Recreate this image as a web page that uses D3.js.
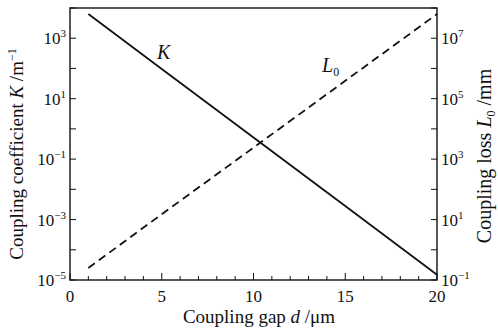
<!DOCTYPE html>
<html>
<head>
<meta charset="utf-8">
<script src="https://cdn.jsdelivr.net/npm/d3@7"></script>
<style>
  html, body { margin: 0; padding: 0; background: #ffffff; }
  svg { display: block; }
  text { font-family: "Liberation Serif", "DejaVu Serif", serif; fill: #111; }
</style>
</head>
<body>
<svg id="chart" width="498" height="334"></svg>
<script>
// Coupling gap (µm)
const gap = [1, 5, 10, 15, 20];
// Coupling coefficient K (1/m), left log axis
const kValues = [6.3e3, 96, 0.52, 2.8e-3, 1.5e-5];
// Coupling loss L0 (mm), right log axis
const lossValues = [0.25, 15, 2.4e3, 3.9e5, 6.3e7];

const xTicks = [0, 5, 10, 15, 20];
const leftExp = [-5, -3, -1, 1, 3];
const rightExp = [-1, 1, 3, 5, 7];

const svg = d3.select("#chart");
const m = { left: 70, right: 61, top: 8, bottom: 54 };
const W = 498, H = 334;
const iw = W - m.left - m.right, ih = H - m.top - m.bottom;

const x = d3.scaleLinear().domain([0, 20]).range([m.left, m.left + iw]);
const yL = d3.scaleLog().domain([1e-5, 1e4]).range([m.top + ih, m.top]);
const yR = d3.scaleLog().domain([1e-1, 1e8]).range([m.top + ih, m.top]);

const g = svg.append("g");

// frame
g.append("rect")
  .attr("x", m.left).attr("y", m.top).attr("width", iw).attr("height", ih)
  .attr("fill", "none").attr("stroke", "#111").attr("stroke-width", 1.4);

// x ticks (inward), major every 5, minor every 1
const xMinor = d3.range(0, 21);
g.selectAll(".xt").data(xMinor).join("line")
  .attr("x1", d => x(d)).attr("x2", d => x(d))
  .attr("y1", m.top + ih).attr("y2", d => m.top + ih - (d % 5 === 0 ? 7 : 4))
  .attr("stroke", "#111").attr("stroke-width", 1);

g.selectAll(".xl").data(xTicks).join("text")
  .attr("x", d => x(d)).attr("y", m.top + ih + 22)
  .attr("text-anchor", "middle").attr("font-size", 17)
  .text(d => d);

// left axis ticks each decade
const leftDec = d3.range(-5, 5);
g.selectAll(".lt").data(leftDec).join("line")
  .attr("x1", m.left).attr("x2", m.left + 6)
  .attr("y1", d => yL(Math.pow(10, d))).attr("y2", d => yL(Math.pow(10, d)))
  .attr("stroke", "#111").attr("stroke-width", 1);

const rightDec = d3.range(-1, 9);
g.selectAll(".rt").data(rightDec).join("line")
  .attr("x1", m.left + iw).attr("x2", m.left + iw - 6)
  .attr("y1", d => yR(Math.pow(10, d))).attr("y2", d => yR(Math.pow(10, d)))
  .attr("stroke", "#111").attr("stroke-width", 1);

function powLabel(sel) {
  sel.each(function(e) {
    const t = d3.select(this);
    t.append("tspan").attr("font-size", 17).text("10");
    t.append("tspan").attr("font-size", 11).attr("dy", -7)
      .text(e < 0 ? "\u2212" + Math.abs(e) : e);
  });
}

g.selectAll(".ll").data(leftExp).join("text")
  .attr("x", m.left - 4).attr("y", d => yL(Math.pow(10, d)) + 6)
  .attr("text-anchor", "end")
  .call(powLabel);

g.selectAll(".rl").data(rightExp).join("text")
  .attr("x", m.left + iw + 4).attr("y", d => yR(Math.pow(10, d)) + 6)
  .attr("text-anchor", "start")
  .call(powLabel);

// curves
const lineK = d3.line().x((d, i) => x(gap[i])).y(d => yL(d));
const lineL = d3.line().x((d, i) => x(gap[i])).y(d => yR(d));

g.append("path").attr("d", lineK(kValues))
  .attr("fill", "none").attr("stroke", "#111").attr("stroke-width", 1.8);
g.append("path").attr("d", lineL(lossValues))
  .attr("fill", "none").attr("stroke", "#111").attr("stroke-width", 1.8)
  .attr("stroke-dasharray", "8,5");

// curve labels
g.append("text").attr("x", 157).attr("y", 59)
  .attr("font-size", 20).attr("font-style", "italic").text("K");
const lt = g.append("text").attr("x", 322).attr("y", 72).attr("font-size", 20);
lt.append("tspan").attr("font-style", "italic").text("L");
lt.append("tspan").attr("font-size", 12).attr("dy", 4).text("0");

// axis titles
const xt = g.append("text").attr("x", 259).attr("y", 323)
  .attr("text-anchor", "middle").attr("font-size", 19);
xt.append("tspan").text("Coupling gap ");
xt.append("tspan").attr("font-style", "italic").text("d");
xt.append("tspan").text(" /\u03bcm");

const ylt = g.append("text")
  .attr("transform", "translate(23,154) rotate(-90)")
  .attr("text-anchor", "middle").attr("font-size", 19);
ylt.append("tspan").text("Coupling coefficient ");
ylt.append("tspan").attr("font-style", "italic").text("K");
ylt.append("tspan").text(" /m");
ylt.append("tspan").attr("font-size", 12).attr("dy", -7).text("\u22121");

const yrt = g.append("text")
  .attr("transform", "translate(491,156) rotate(-90)")
  .attr("text-anchor", "middle").attr("font-size", 20);
yrt.append("tspan").text("Coupling loss ");
yrt.append("tspan").attr("font-style", "italic").text("L");
yrt.append("tspan").attr("font-size", 12).attr("dy", 4).text("0");
yrt.append("tspan").attr("dy", -4).text(" /mm");
</script>
</body>
</html>
